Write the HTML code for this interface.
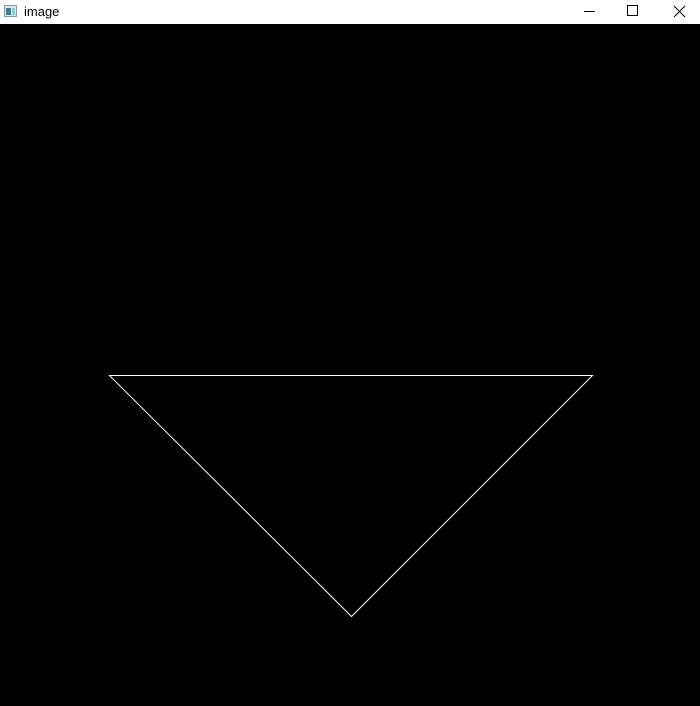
<!DOCTYPE html>
<html><head><meta charset="utf-8"><style>
body{margin:0;width:700px;height:706px;overflow:hidden;background:#fff;font-family:"Liberation Sans",sans-serif}
#bar{position:absolute;left:0;top:0;width:700px;height:24px;background:#fff}
#title{position:absolute;left:24px;top:4px;font-size:13px;color:#000}
#canvas{position:absolute;left:0;top:24px;width:700px;height:682px;background:#000}
</style></head><body>
<div id="bar">
<svg width="700" height="24" style="position:absolute;left:0;top:0">
<g><rect x="4.5" y="5.5" width="12" height="11" fill="#dfe6ec" stroke="#8a9aa8"/><rect x="6" y="8" width="5" height="7" fill="#3e7f88"/><rect x="12" y="8" width="3" height="7" fill="#9cc"/></g>
<line x1="584" y1="11.5" x2="595" y2="11.5" stroke="#000"/>
<rect x="627.5" y="5.5" width="10" height="10" fill="none" stroke="#000"/>
<g stroke="#000"><line x1="674" y1="6" x2="685" y2="17"/><line x1="685" y1="6" x2="674" y2="17"/></g>
</svg>
<div id="title">image</div>
</div>
<div id="canvas"></div>
<svg width="700" height="706" style="position:absolute;left:0;top:0">
<polygon points="109,375 592,375 351,616" fill="none" stroke="#fff" stroke-width="1" transform="translate(0.5,0.5)"/>
</svg>
</body></html>
